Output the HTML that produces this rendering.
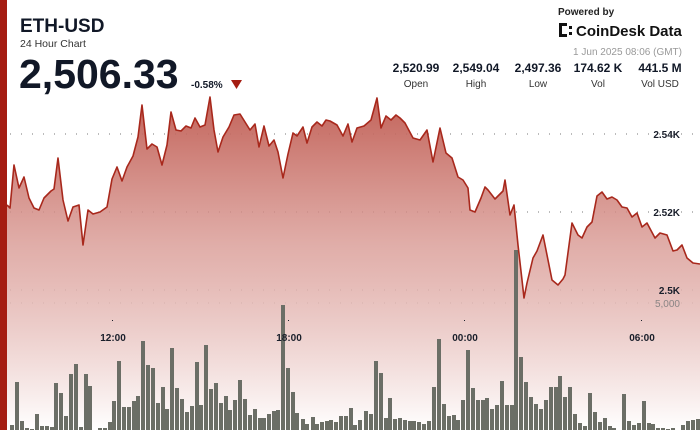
<!DOCTYPE html>
<html><head><meta charset="utf-8"><style>
body{margin:0;width:700px;height:430px;overflow:hidden;background:#fff;font-family:"Liberation Sans",sans-serif;}
svg{position:absolute;left:0;top:0}
</style></head><body>
<svg width="700" height="430" viewBox="0 0 700 430">
<defs>
<linearGradient id="g" x1="0" y1="0" x2="0" y2="1">
<stop offset="0" stop-color="#bf5a50" stop-opacity="0.95"/>
<stop offset="0.45" stop-color="#d99a94" stop-opacity="0.8"/>
<stop offset="1" stop-color="#ffffff" stop-opacity="1"/>
</linearGradient>
</defs>
<rect x="0" y="0" width="7" height="430" fill="#a51d12"/>
<g stroke="#777" stroke-width="1" stroke-dasharray="1 10">
<line x1="10" y1="134" x2="700" y2="134"/>
<line x1="10" y1="212" x2="700" y2="212"/>
<line x1="10" y1="290" x2="700" y2="290"/>
<line x1="10" y1="303" x2="700" y2="303"/>
</g>
<path fill="url(#g)" stroke="none" d="M7,430 L7,205 L10,208 L14,165 L19,188 L24,177 L29,198 L34,208 L39,210 L44,198 L51,191 L54,189 L58,158 L63,200 L68,221 L73,207 L79,205 L83,245 L88,210 L93,214 L100,212 L107,207 L112,179 L117,167 L122,181 L127,167 L133,156 L138,137 L142,105 L147,149 L152,144 L157,147 L162,165 L167,145 L171,112 L176,130 L181,131 L186,126 L191,128 L195,118 L200,127 L205,125 L210,97 L214,130 L218,152 L223,137 L229,127 L234,115 L240,114 L245,122 L250,130 L255,124 L259,147 L264,126 L269,146 L274,140 L278,152 L283,178 L288,154 L293,133 L297,136 L303,127 L307,143 L312,127 L317,122 L322,126 L326,120 L330,121 L337,125 L343,136 L348,124 L352,142 L357,128 L364,126 L371,120 L377,98 L381,128 L386,116 L391,120 L396,115 L400,118 L405,123 L413,138 L420,140 L427,130 L433,162 L440,128 L446,153 L452,158 L458,177 L463,180 L468,188 L470,210 L475,212 L481,198 L485,187 L488,190 L495,199 L498,196 L503,191 L505,180 L510,215 L514,205 L518,245 L522,280 L524,298 L527,283 L533,258 L537,251 L543,235 L547,255 L552,280 L558,285 L563,279 L565,275 L572,223 L578,235 L582,238 L587,227 L592,222 L597,196 L602,192 L607,199 L612,197 L617,200 L622,207 L627,208 L632,217 L637,213 L642,227 L647,223 L655,238 L660,233 L667,235 L673,251 L677,250 L682,245 L687,258 L693,263 L700,264 L700,430 Z"/>
<g fill="#6b6e66" id="bars"></g>
<polyline fill="none" stroke="#a8281c" stroke-width="1.6" stroke-linejoin="round" points="7,205 10,208 14,165 19,188 24,177 29,198 34,208 39,210 44,198 51,191 54,189 58,158 63,200 68,221 73,207 79,205 83,245 88,210 93,214 100,212 107,207 112,179 117,167 122,181 127,167 133,156 138,137 142,105 147,149 152,144 157,147 162,165 167,145 171,112 176,130 181,131 186,126 191,128 195,118 200,127 205,125 210,97 214,130 218,152 223,137 229,127 234,115 240,114 245,122 250,130 255,124 259,147 264,126 269,146 274,140 278,152 283,178 288,154 293,133 297,136 303,127 307,143 312,127 317,122 322,126 326,120 330,121 337,125 343,136 348,124 352,142 357,128 364,126 371,120 377,98 381,128 386,116 391,120 396,115 400,118 405,123 413,138 420,140 427,130 433,162 440,128 446,153 452,158 458,177 463,180 468,188 470,210 475,212 481,198 485,187 488,190 495,199 498,196 503,191 505,180 510,215 514,205 518,245 522,280 524,298 527,283 533,258 537,251 543,235 547,255 552,280 558,285 563,279 565,275 572,223 578,235 582,238 587,227 592,222 597,196 602,192 607,199 612,197 617,200 622,207 627,208 632,217 637,213 642,227 647,223 655,238 660,233 667,235 673,251 677,250 682,245 687,258 693,263 700,264"/>
<g font-size="10" font-weight="bold" fill="#1a1f2b" text-anchor="end">
<text x="680" y="138">2.54K</text>
<text x="680" y="216">2.52K</text>
<text x="680" y="294">2.5K</text>
<text x="680" y="307" fill="#8a8585" font-weight="normal">5,000</text>
</g>
<g font-size="10" font-weight="bold" fill="#1a1f2b" text-anchor="middle">
<text x="113" y="341">12:00</text>
<text x="289" y="341">18:00</text>
<text x="465" y="341">00:00</text>
<text x="642" y="341">06:00</text>
</g>
<g fill="#1a1f2b"><rect x="112" y="320" width="1" height="1"/><rect x="288" y="320" width="1" height="1"/><rect x="464" y="320" width="1" height="1"/><rect x="641" y="320" width="1" height="1"/></g>
<text x="20" y="32" font-size="19" font-weight="bold" fill="#111827">ETH-USD</text>
<text x="20" y="47" font-size="10.5" fill="#333">24 Hour Chart</text>
<text x="19" y="88" font-size="41" font-weight="bold" fill="#111827">2,506.33</text>
<text x="191" y="88" font-size="10" font-weight="bold" fill="#111827">-0.58%</text>
<polygon points="231,80 242,80 236.5,89" fill="#a51d12"/>
<text x="558" y="15" font-size="10" font-weight="bold" fill="#222">Powered by</text>
<g fill="#111"><rect x="559" y="23" width="3" height="14"/><rect x="559" y="23" width="8" height="3"/><rect x="559" y="34" width="8" height="3"/><rect x="569" y="26" width="3" height="3"/><rect x="569" y="32" width="3" height="3"/></g>
<text x="576" y="36" font-size="15" font-weight="bold" fill="#111">CoinDesk Data</text>
<text x="682" y="55" font-size="10" fill="#999" text-anchor="end">1 Jun 2025 08:06 (GMT)</text>
<g font-size="12" font-weight="bold" fill="#111827" text-anchor="middle">
<text x="416" y="72">2,520.99</text><text x="476" y="72">2,549.04</text><text x="538" y="72">2,497.36</text><text x="598" y="72">174.62 K</text><text x="660" y="72">441.5 M</text>
</g>
<g font-size="10" fill="#333" text-anchor="middle">
<text x="416" y="87">Open</text><text x="476" y="87">High</text><text x="538" y="87">Low</text><text x="598" y="87">Vol</text><text x="660" y="87">Vol USD</text>
</g>
</svg>
<script>
var d=[[12,425],[17,382],[22,421],[27,428],[32,429],[37,414],[42,426],[47,426],[52,427],[56,383],[61,393],[66,416],[71,374],[76,364],[81,427],[86,374],[90,386],[95,430],[100,428],[105,428],[110,422],[114,401],[119,361],[124,407],[129,407],[134,401],[138,396],[143,341],[148,365],[153,368],[158,403],[163,387],[167,409],[172,348],[177,388],[182,399],[187,412],[192,406],[197,362],[201,405],[206,345],[211,389],[216,383],[221,403],[226,396],[230,410],[235,400],[240,380],[245,399],[250,415],[255,409],[260,418],[264,418],[269,414],[274,411],[278,410],[283,305],[288,368],[293,392],[297,413],[303,419],[307,424],[313,417],[317,424],[322,422],[327,421],[331,420],[336,422],[341,416],[346,416],[351,408],[355,425],[360,420],[366,411],[371,414],[376,361],[381,373],[386,418],[390,398],[395,419],[400,418],[405,420],[410,421],[414,421],[419,422],[424,424],[429,421],[434,387],[439,339],[444,404],[449,416],[454,415],[458,420],[463,400],[468,350],[473,388],[478,400],[483,400],[487,398],[492,409],[497,405],[502,381],[507,405],[512,405],[516,250],[521,357],[526,382],[531,397],[536,404],[541,409],[546,400],[551,387],[556,387],[560,376],[565,397],[570,387],[575,414],[580,423],[585,426],[590,393],[595,412],[600,422],[605,418],[610,426],[614,428],[624,394],[629,421],[634,425],[639,423],[644,401],[649,423],[653,424],[658,428],[663,428],[668,429],[673,428],[683,425],[688,421],[693,420],[698,419]];
var g=document.getElementById('bars'),s='';
d.forEach(function(p){s+='<rect x="'+(p[0]-2)+'" y="'+p[1]+'" width="4" height="'+(430-p[1])+'"/>';});
g.innerHTML=s;
</script>
</body></html>
